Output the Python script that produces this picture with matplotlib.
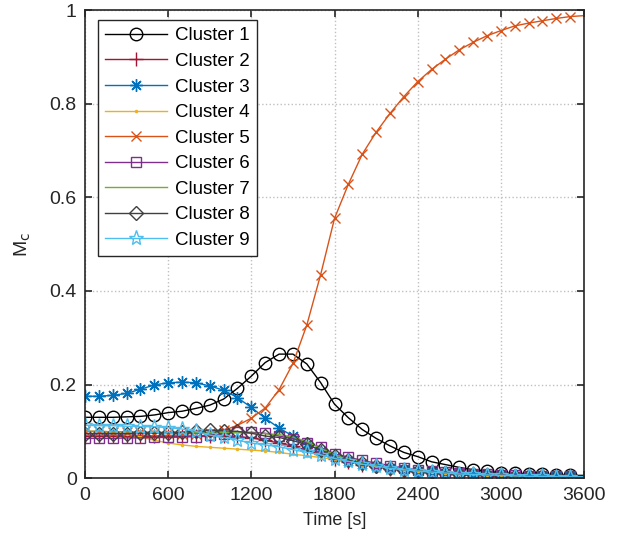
import numpy as np
import matplotlib.pyplot as plt

plt.rcParams['font.family'] = ['Liberation Sans', 'DejaVu Sans']

# time axis, one sample every 100 s
time = np.arange(0, 3700, 100)

# M_c values for each cluster
cluster1 = [0.130, 0.130, 0.130, 0.131, 0.132, 0.135, 0.140, 0.143, 0.149, 0.156,
            0.169, 0.192, 0.218, 0.247, 0.265, 0.265, 0.244, 0.204, 0.158, 0.129,
            0.104, 0.085, 0.069, 0.055, 0.046, 0.035, 0.029, 0.023, 0.018, 0.015,
            0.011, 0.010, 0.009, 0.008, 0.007, 0.006, 0.006]
cluster2 = [0.090, 0.090, 0.090, 0.090, 0.090, 0.090, 0.090, 0.090, 0.090, 0.090,
            0.090, 0.089, 0.086, 0.081, 0.075, 0.068, 0.060, 0.051, 0.041, 0.034,
            0.029, 0.025, 0.020, 0.017, 0.014, 0.012, 0.010, 0.009, 0.007, 0.006,
            0.005, 0.004, 0.004, 0.003, 0.003, 0.003, 0.003]
cluster3 = [0.175, 0.175, 0.177, 0.181, 0.190, 0.199, 0.204, 0.205, 0.204, 0.197,
            0.188, 0.172, 0.151, 0.128, 0.107, 0.090, 0.074, 0.058, 0.045, 0.037,
            0.031, 0.027, 0.022, 0.019, 0.016, 0.014, 0.012, 0.010, 0.008, 0.007,
            0.006, 0.005, 0.005, 0.004, 0.004, 0.004, 0.003]
cluster4 = [0.100, 0.099, 0.097, 0.094, 0.088, 0.081, 0.075, 0.071, 0.068, 0.066,
            0.064, 0.062, 0.060, 0.058, 0.055, 0.051, 0.048, 0.044, 0.040, 0.034,
            0.029, 0.025, 0.021, 0.018, 0.015, 0.013, 0.011, 0.009, 0.008, 0.007,
            0.006, 0.005, 0.004, 0.004, 0.003, 0.003, 0.003]
cluster5 = [0.100, 0.100, 0.099, 0.099, 0.098, 0.097, 0.096, 0.095, 0.095, 0.097,
            0.102, 0.113, 0.128, 0.150, 0.189, 0.245, 0.327, 0.435, 0.555, 0.628,
            0.692, 0.739, 0.779, 0.815, 0.847, 0.873, 0.895, 0.915, 0.931, 0.945,
            0.956, 0.966, 0.972, 0.977, 0.982, 0.986, 0.988]
cluster6 = [0.085, 0.085, 0.085, 0.086, 0.086, 0.087, 0.087, 0.088, 0.089, 0.092,
            0.095, 0.098, 0.098, 0.096, 0.090, 0.084, 0.076, 0.066, 0.052, 0.045,
            0.038, 0.032, 0.027, 0.022, 0.018, 0.015, 0.013, 0.011, 0.009, 0.008,
            0.007, 0.006, 0.005, 0.005, 0.004, 0.004, 0.004]
cluster7 = [0.100, 0.100, 0.099, 0.099, 0.099, 0.098, 0.098, 0.098, 0.098, 0.098,
            0.098, 0.097, 0.096, 0.095, 0.093, 0.088, 0.078, 0.064, 0.050, 0.041,
            0.034, 0.028, 0.023, 0.019, 0.016, 0.013, 0.011, 0.009, 0.008, 0.007,
            0.006, 0.005, 0.004, 0.004, 0.003, 0.003, 0.003]
cluster8 = [0.095, 0.095, 0.095, 0.095, 0.096, 0.096, 0.097, 0.098, 0.100, 0.103,
            0.101, 0.100, 0.096, 0.090, 0.087, 0.080, 0.072, 0.060, 0.047, 0.039,
            0.032, 0.027, 0.022, 0.018, 0.015, 0.013, 0.011, 0.009, 0.008, 0.007,
            0.006, 0.005, 0.004, 0.004, 0.003, 0.003, 0.003]
cluster9 = [0.113, 0.112, 0.112, 0.111, 0.110, 0.110, 0.108, 0.105, 0.100, 0.092,
            0.087, 0.081, 0.075, 0.071, 0.067, 0.061, 0.055, 0.050, 0.042, 0.036,
            0.030, 0.026, 0.021, 0.018, 0.015, 0.013, 0.011, 0.009, 0.008, 0.007,
            0.006, 0.005, 0.004, 0.004, 0.003, 0.003, 0.003]

labels = ['Cluster %d' % i for i in range(1, 10)]
series = [cluster1, cluster2, cluster3, cluster4, cluster5,
          cluster6, cluster7, cluster8, cluster9]
colors = ['#000000', '#A2142F', '#0072BD', '#EDB120', '#D95319',
          '#7E2F8E', '#77AC30', '#404040', '#4DBEEE']
markers = ['o', '+', (8, 2, 0), '.', 'x', 's', 'None', 'D', '*']
msizes = [9, 10, 9, 3, 7, 7.5, 0, 7.5, 11]

fig = plt.figure(figsize=(6.26, 5.44), dpi=100)
ax = fig.add_axes([0.1358, 0.121, 0.7972, 0.8606])

for y, lab, c, m, ms in zip(series, labels, colors, markers, msizes):
    ax.plot(time, y, color=c, lw=1.0, marker=m, markersize=ms,
            markerfacecolor='none', markeredgecolor=c, markeredgewidth=1.0,
            markevery=slice(0, 36), label=lab)

ax.set_xlim(0, 3600)
ax.set_ylim(0, 1)
ax.set_xticks(np.arange(0, 3601, 600))
ax.set_yticks([0, 0.2, 0.4, 0.6, 0.8, 1])
ax.set_yticklabels(['0', '0.2', '0.4', '0.6', '0.8', '1'])
ax.tick_params(direction='in', top=True, right=True, labelsize=14,
               colors='#262626', length=5, width=1.2, pad=6)
ax.grid(True, color='#c0c0c0', linestyle=':', linewidth=1.0)
for s in ax.spines.values():
    s.set_linewidth(1.2)
    s.set_color('#262626')

ax.set_xlabel('Time [s]', fontsize=13, color='#262626', labelpad=6)
ax.set_ylabel('M$_\\mathrm{c}$', fontsize=14, color='#262626', labelpad=12)

leg = ax.legend(loc='upper left', bbox_to_anchor=(0.026, 0.979), fontsize=13.5,
                handlelength=3.3, handletextpad=0.4, labelspacing=0.45,
                borderpad=0.4, fancybox=False, framealpha=1,
                edgecolor='#262626', borderaxespad=0)
leg.get_frame().set_linewidth(1.0)
for t in leg.get_texts():
    t.set_color('#000000')

fig.savefig('out.png', dpi=100)
